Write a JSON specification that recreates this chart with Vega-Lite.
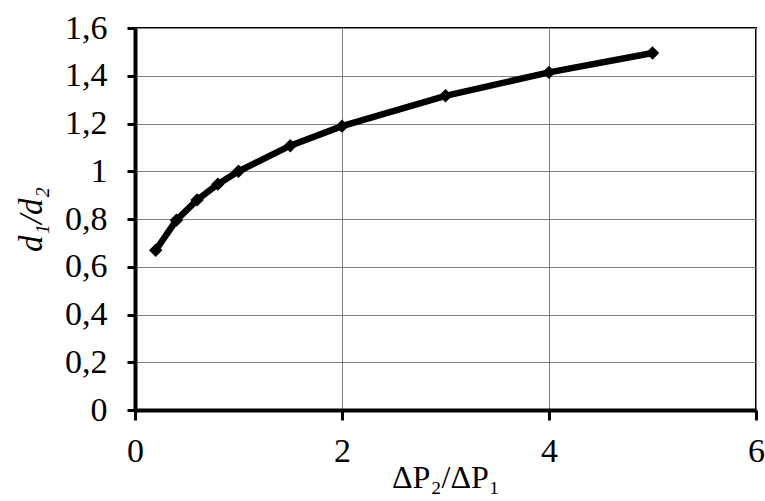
{
  "$schema": "https://vega.github.io/schema/vega-lite/v6.json",
  "width": 621,
  "height": 382,
  "autosize": "none",
  "padding": {"left": 135, "top": 28, "right": 9, "bottom": 91},
  "background": "white",
  "data": {
    "values": [
      {"ratioP": 0.2, "ratioD": 0.669},
      {"ratioP": 0.4, "ratioD": 0.795},
      {"ratioP": 0.6, "ratioD": 0.880},
      {"ratioP": 0.8, "ratioD": 0.946},
      {"ratioP": 1.0, "ratioD": 1.000},
      {"ratioP": 1.5, "ratioD": 1.107},
      {"ratioP": 2.0, "ratioD": 1.189},
      {"ratioP": 3.0, "ratioD": 1.316},
      {"ratioP": 4.0, "ratioD": 1.414},
      {"ratioP": 5.0, "ratioD": 1.495}
    ]
  },
  "mark": {
    "type": "line",
    "color": "black",
    "strokeWidth": 6.5,
    "point": {"shape": "diamond", "size": 180, "filled": true, "color": "black", "opacity": 1}
  },
  "encoding": {
    "x": {
      "field": "ratioP",
      "type": "quantitative",
      "scale": {"domain": [0, 6], "nice": false, "zero": false},
      "axis": {
        "values": [0, 2, 4, 6],
        "title": "ΔP₂/ΔP₁",
        "titleFont": "Liberation Serif",
        "titleFontSize": 32,
        "titleFontWeight": "normal",
        "titleColor": "black",
        "titlePadding": -6,
        "labelFont": "Liberation Serif",
        "labelFontSize": 34,
        "labelColor": "black",
        "labelPadding": 14,
        "labelFlush": false,
        "tickSize": 10,
        "tickWidth": 3,
        "tickColor": "black",
        "domainColor": "black",
        "domainWidth": 4,
        "grid": true,
        "gridColor": "#808080",
        "gridWidth": 1,
        "gridOpacity": 1
      }
    },
    "y": {
      "field": "ratioD",
      "type": "quantitative",
      "scale": {"domain": [0, 1.6], "nice": false, "zero": false},
      "axis": {
        "values": [0, 0.2, 0.4, 0.6, 0.8, 1.0, 1.2, 1.4, 1.6],
        "labelExpr": "replace(format(datum.value, '.1~f'), '.', ',')",
        "title": "d₁/d₂",
        "titleFont": "Liberation Serif",
        "titleFontSize": 33,
        "titleFontStyle": "italic",
        "titleFontWeight": "normal",
        "titleColor": "black",
        "titlePadding": 16,
        "labelFont": "Liberation Serif",
        "labelFontSize": 34,
        "labelColor": "black",
        "labelPadding": 20,
        "labelFlush": false,
        "tickSize": 8,
        "tickWidth": 3,
        "tickColor": "black",
        "domainColor": "black",
        "domainWidth": 4,
        "grid": true,
        "gridColor": "#808080",
        "gridWidth": 1,
        "gridOpacity": 1
      }
    }
  },
  "config": {
    "view": {"stroke": "black", "strokeWidth": 2}
  }
}
